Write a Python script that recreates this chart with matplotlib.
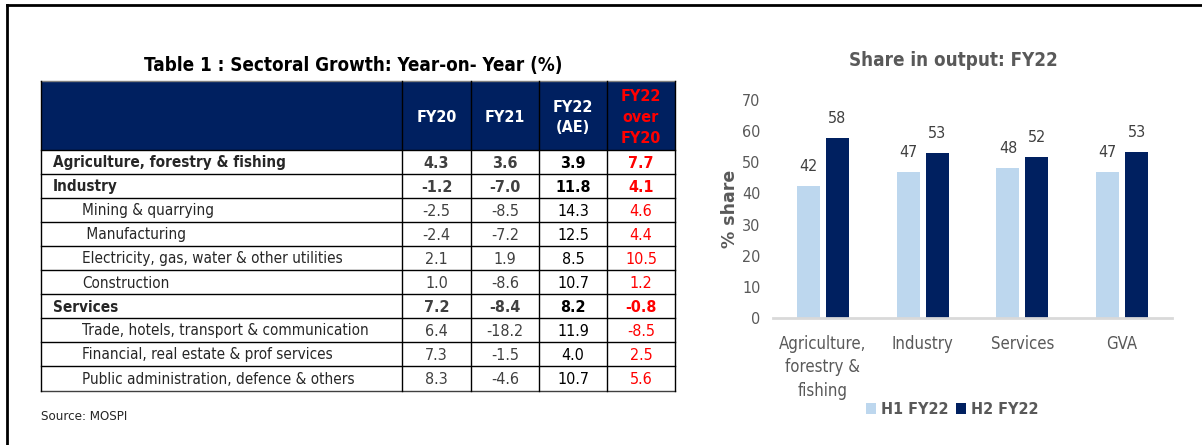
import matplotlib
matplotlib.use("Agg")
import matplotlib.pyplot as plt
from matplotlib.patches import Rectangle
from matplotlib.lines import Line2D

# ---------------- data ----------------
table_title = "Table 1 : Sectoral Growth: Year-on- Year (%)"
col_headers = ["FY20", "FY21", "FY22\n(AE)", "FY22\nover\nFY20"]
row_labels = ["Agriculture, forestry & fishing", "Industry", "Mining & quarrying",
              " Manufacturing", "Electricity, gas, water & other utilities", "Construction",
              "Services", "Trade, hotels, transport & communication",
              "Financial, real estate & prof services", "Public administration, defence & others"]
row_bold = [True, True, False, False, False, False, True, False, False, False]
fy20 = ["4.3", "-1.2", "-2.5", "-2.4", "2.1", "1.0", "7.2", "6.4", "7.3", "8.3"]
fy21 = ["3.6", "-7.0", "-8.5", "-7.2", "1.9", "-8.6", "-8.4", "-18.2", "-1.5", "-4.6"]
fy22 = ["3.9", "11.8", "14.3", "12.5", "8.5", "10.7", "8.2", "11.9", "4.0", "10.7"]
fy22_over_fy20 = ["7.7", "4.1", "4.6", "4.4", "10.5", "1.2", "-0.8", "-8.5", "2.5", "5.6"]
source_text = "Source: MOSPI"

chart_title = "Share in output: FY22"
categories = ["Agriculture,\nforestry &\nfishing", "Industry", "Services", "GVA"]
h1_fy22 = [42.3, 46.9, 48.3, 46.8]
h2_fy22 = [57.7, 53.1, 51.7, 53.2]
series_names = ["H1 FY22", "H2 FY22"]
y_label = "% share"

# ---------------- style ----------------
W, H = 1202, 445
NAVY = "#002060"
LIGHT = "#BDD7EE"
GREY = "#595959"
FONT = "DejaVu Sans"
ST = "condensed"

fig = plt.figure(figsize=(W / 100, H / 100), dpi=100)
fig.patch.set_facecolor("white")


def px_axes(x0, y0, x1, y1):
    return fig.add_axes([x0 / W, 1 - y1 / H, (x1 - x0) / W, (y1 - y0) / H])


# outer frame (left and top)
frame = fig.add_axes([0, 0, 1, 1])
frame.set_xlim(0, W)
frame.set_ylim(H, 0)
frame.axis("off")
frame.add_line(Line2D([7, 7], [5, H], color="black", lw=2))
frame.add_line(Line2D([7, W], [5, 5], color="black", lw=2))

# ---------------- table ----------------
tx0, tx1 = 41, 675
ty0, ty1 = 81, 391
col_edges = [41, 402, 471, 539, 607, 675]
header_bottom = 150
row_h = 24

tab = px_axes(tx0 - 2, ty0 - 2, tx1 + 2, ty1 + 2)
tab.set_xlim(tx0 - 2, tx1 + 2)
tab.set_ylim(ty1 + 2, ty0 - 2)
tab.axis("off")

# header band
tab.add_patch(Rectangle((tx0, ty0), tx1 - tx0, header_bottom - ty0, facecolor=NAVY,
                        edgecolor="none"))
for j, hdr in enumerate(col_headers):
    cx = (col_edges[j + 1] + col_edges[j + 2]) / 2
    colr = "#FF0000" if j == 3 else "white"
    tab.text(cx, (ty0 + header_bottom) / 2 + 2, hdr, ha="center", va="center", color=colr,
             fontsize=11.5, fontweight="bold", family=FONT, fontstretch=ST, linespacing=1.5)

cols = [fy20, fy21, fy22, fy22_over_fy20]
for i, lab in enumerate(row_labels):
    cy = header_bottom + row_h * i + row_h / 2
    b = row_bold[i]
    lx = 53 if b else 82
    tab.text(lx, cy + 1, lab.strip() if b else lab, ha="left", va="center",
             color="#262626", fontsize=11, fontweight="bold" if b else "normal",
             family=FONT, fontstretch=ST)
    for j, col in enumerate(cols):
        cx = (col_edges[j + 1] + col_edges[j + 2]) / 2
        if j == 3:
            c = "#FF0000"
        elif j == 2:
            c = "black"
        else:
            c = "#404040"
        tab.text(cx, cy + 1, col[i], ha="center", va="center", color=c, fontsize=11.5,
                 fontweight="bold" if b else "normal", family=FONT, fontstretch=ST)

# horizontal row lines
for i in range(1, len(row_labels)):
    y = header_bottom + row_h * i
    tab.add_line(Line2D([tx0, tx1], [y, y], color="black", lw=1))
tab.add_line(Line2D([tx0, tx1], [header_bottom, header_bottom], color="black", lw=1))
tab.add_line(Line2D([tx0, tx1], [ty0, ty0], color="#7f7f7f", lw=1))
tab.add_line(Line2D([tx0, tx1], [ty1, ty1], color="#404040", lw=1))
# vertical lines
for x in col_edges:
    tab.add_line(Line2D([x, x], [ty0, ty1], color="black", lw=1))

frame.text((tx0 + tx1) / 2 - 5, 66, table_title, ha="center", va="center", color="black",
           fontsize=13.5, fontweight="bold", family=FONT, fontstretch=ST)
frame.text(41, 417, source_text, ha="left", va="center", color="#262626", fontsize=9.5,
           family=FONT, fontstretch=ST)

# ---------------- bar chart ----------------
ax = px_axes(773, 100, 1172, 318)
x = list(range(len(categories)))
bw = 0.23
off = 0.145
bars1 = ax.bar([v - off for v in x], h1_fy22, width=bw, color=LIGHT, label=series_names[0])
bars2 = ax.bar([v + off for v in x], h2_fy22, width=bw, color=NAVY, label=series_names[1])
ax.set_xlim(-0.5, len(categories) - 0.5)
ax.set_ylim(0, 70)
ax.set_yticks(range(0, 71, 10))
ax.set_xticks(x)
ax.set_xticklabels(categories, linespacing=1.4)
for s in ["top", "right", "left"]:
    ax.spines[s].set_visible(False)
ax.spines["bottom"].set_color("#D9D9D9")
ax.spines["bottom"].set_linewidth(2)
ax.tick_params(axis="both", length=0, colors=GREY)
ax.tick_params(axis="y", pad=9, labelsize=11.5)
ax.tick_params(axis="x", pad=12, labelsize=12)
for t in ax.get_xticklabels() + ax.get_yticklabels():
    t.set_family(FONT)
    t.set_fontstretch(ST)
    t.set_color(GREY)
for bars in (bars1, bars2):
    for r in bars:
        ax.annotate(f"{r.get_height():.0f}", (r.get_x() + r.get_width() / 2, r.get_height()),
                    xytext=(0, 14), textcoords="offset points", ha="center", va="center",
                    fontsize=11.5, color="#404040", family=FONT, fontstretch=ST)
ax.set_ylabel(y_label, fontsize=12.5, fontweight="bold", color=GREY, family=FONT, labelpad=2)
frame.text(953, 61, chart_title, ha="center", va="center", color=GREY, fontsize=13.5,
           fontweight="bold", family=FONT, fontstretch=ST)
leg = ax.legend(loc="center", bbox_to_anchor=(0.449, -0.42), ncol=2, frameon=False,
                handlelength=0.6, handleheight=0.6, handletextpad=0.3, columnspacing=0.5,
                prop={"family": FONT, "stretch": ST, "weight": "bold", "size": 11.5})
for t in leg.get_texts():
    t.set_color(GREY)

fig.savefig("out.png", dpi=100, facecolor="white")
